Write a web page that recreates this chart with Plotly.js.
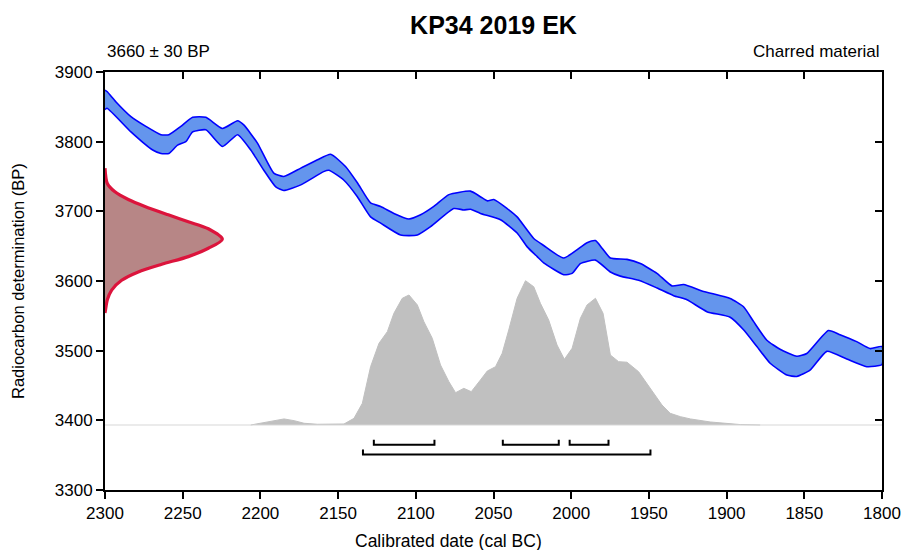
<!DOCTYPE html>
<html>
<head>
<meta charset="utf-8">
<script src="https://cdn.plot.ly/plotly-3.0.1.min.js"></script>
<style>html,body{margin:0;padding:0;background:#fff;}#chart{width:901px;height:550px;}</style>
</head>
<body>
<div id="chart"></div>
<script>
// ---- Data ----
// Calibration curve band (upper and lower edges), cal BC vs BP
var calUpperYear = [2300, 2298.7, 2292.9, 2283.3, 2273.7, 2264, 2258.9, 2251.2, 2243.6, 2235.1, 2224.4, 2214.7, 2210.7, 2201.9, 2191.4, 2185, 2174, 2163.3, 2154.8, 2145.1, 2137.6, 2129.1, 2122.6, 2114.1, 2104.4, 2096.9, 2088.4, 2078.7, 2064.8, 2058.4, 2054, 2049.8, 2041.2, 2034.8, 2024.1, 2017.7, 2004.8, 1989.8, 1984.4, 1980.1, 1974.8, 1964.1, 1955.5, 1944.8, 1935.2, 1927.7, 1914.8, 1897.7, 1889.1, 1882.7, 1874.1, 1865.6, 1854.8, 1848.4, 1834.5, 1827, 1816.3, 1807.7, 1800];
var calUpperBP   = [3874, 3872, 3857, 3836, 3822, 3810, 3810, 3822, 3835, 3835, 3819, 3830, 3824, 3798, 3755, 3750, 3762, 3774, 3782, 3764, 3741, 3712, 3707, 3697, 3689, 3695, 3707, 3724, 3729, 3721, 3715, 3717, 3704, 3692, 3661, 3651, 3633, 3655, 3658, 3647, 3633, 3631, 3625, 3611, 3593, 3595, 3585, 3575, 3563, 3542, 3515, 3502, 3492, 3496, 3529, 3523, 3513, 3503, 3506];
var calLowerYear = [2300, 2298.7, 2283.3, 2269.3, 2264, 2258.9, 2253.3, 2248, 2243.6, 2235.1, 2224.4, 2214.7, 2206.2, 2197.8, 2190.1, 2185, 2174, 2159.3, 2156, 2146.4, 2137.6, 2129.1, 2122.6, 2109.8, 2099, 2090.5, 2075.5, 2069.1, 2064.8, 2058.4, 2045.5, 2034.8, 2028.3, 2021.9, 2017.7, 2004.8, 1999.4, 1994.1, 1984.4, 1974.8, 1968.4, 1956.6, 1944.8, 1934.1, 1925.5, 1912.7, 1897.7, 1889.1, 1880.5, 1872, 1861.2, 1854.8, 1846.3, 1835.5, 1822.7, 1809.8, 1800];
var calLowerBP   = [3846, 3848, 3814, 3788, 3783, 3783, 3795, 3800, 3814, 3817, 3793, 3810, 3788, 3759, 3735, 3730, 3738, 3757, 3759, 3745, 3721, 3692, 3683, 3666, 3666, 3678, 3704, 3702, 3703, 3697, 3688, 3669, 3649, 3635, 3626, 3609, 3611, 3625, 3630, 3613, 3607, 3601, 3590, 3579, 3573, 3556, 3548, 3530, 3506, 3482, 3465, 3463, 3472, 3499, 3488, 3477, 3480];

// Radiocarbon measurement distribution (3660 ± 30 BP), width in years from axis
var rcBP      = [3554, 3558, 3573, 3587, 3601, 3613, 3624, 3635, 3647, 3660, 3675, 3685, 3695, 3707, 3717, 3728, 3740, 3762];
var rcDensity = [0, 0.3, 1.5, 4.3, 10.7, 21.4, 36.5, 53.6, 66.5, 75.5, 66.5, 53.6, 40.7, 25.7, 15, 6.4, 1.5, 0];

// Calibrated probability distribution (relative)
var calDateYear = [2206.2, 2193.3, 2184.8, 2178.3, 2171.9, 2163.3, 2146.2, 2139.8, 2134.4, 2129.1, 2123.7, 2118.3, 2114.1, 2108.7, 2104.4, 2099, 2094.8, 2089.4, 2084.1, 2078.7, 2074.4, 2069.1, 2064.3, 2058.4, 2054, 2048.7, 2044.4, 2040.2, 2034.8, 2029.4, 2024.1, 2019.8, 2014.5, 2009.1, 2004.4, 1999.4, 1994.1, 1989.8, 1984.4, 1979.5, 1974.8, 1969.5, 1964.1, 1956.6, 1949.1, 1941.6, 1936.3, 1929.8, 1923.3, 1910.5, 1891.2, 1878.4];
var calDateProb = [0, 0.023, 0.042, 0.030, 0.012, 0.005, 0.007, 0.046, 0.150, 0.404, 0.566, 0.647, 0.774, 0.878, 0.901, 0.832, 0.716, 0.601, 0.416, 0.300, 0.224, 0.254, 0.231, 0.312, 0.374, 0.404, 0.497, 0.658, 0.878, 1.000, 0.958, 0.843, 0.728, 0.554, 0.455, 0.532, 0.739, 0.832, 0.878, 0.774, 0.485, 0.439, 0.435, 0.369, 0.254, 0.139, 0.081, 0.058, 0.042, 0.021, 0.003, 0];

// Highest probability ranges
var range68Start = [2127, 2044, 2001];
var range68End   = [2088, 2008, 1976];
var range95Start = [2134];
var range95End   = [1949];

var xTicks = [2300, 2250, 2200, 2150, 2100, 2050, 2000, 1950, 1900, 1850, 1800];
var yTicks = [3300, 3400, 3500, 3600, 3700, 3800, 3900];

// ---- Traces ----
var FONT = 'Liberation Sans, Arial, sans-serif';
var traces = [];

// calibrated date probability (grey)
traces.push({
  x: calDateYear, y: calDateProb, xaxis: 'x', yaxis: 'y3',
  type: 'scatter', mode: 'lines', fill: 'tozeroy',
  fillcolor: 'rgb(192,192,192)', line: {color: 'rgb(192,192,192)', width: 1},
  hoverinfo: 'skip', showlegend: false
});
traces.push({
  x: [2300, 1800], y: [0, 0], xaxis: 'x', yaxis: 'y3',
  type: 'scatter', mode: 'lines', line: {color: 'rgb(215,215,215)', width: 1},
  hoverinfo: 'skip', showlegend: false
});

// calibration curve band
var bandX = calUpperYear.concat(calLowerYear.slice().reverse());
var bandY = calUpperBP.concat(calLowerBP.slice().reverse());
traces.push({
  x: bandX, y: bandY, type: 'scatter', mode: 'lines', fill: 'toself',
  fillcolor: '#6495ED', line: {color: '#0000FF', width: 1.6, shape: 'spline', smoothing: 0.5},
  hoverinfo: 'skip', showlegend: false
});

// radiocarbon measurement distribution
traces.push({
  x: rcDensity.map(function(d){ return 2300 - d; }), y: rcBP,
  type: 'scatter', mode: 'lines', fill: 'toself', line: {color: '#DC143C', width: 3.2, shape: 'spline', smoothing: 0.8},
  fillcolor: 'rgb(183,134,134)', hoverinfo: 'skip', showlegend: false
});

// ranges brackets
var lvl68 = 3365, lvl95 = 3351, tickH = 7;
function addBrackets(starts, ends, lvl) {
  for (var i = 0; i < starts.length; i++) {
    traces.push({
      x: [starts[i], starts[i], ends[i], ends[i]],
      y: [lvl + tickH, lvl, lvl, lvl + tickH],
      type: 'scatter', mode: 'lines', line: {color: '#000', width: 2},
      hoverinfo: 'skip', showlegend: false
    });
  }
}
addBrackets(range68Start, range68End, lvl68);
addBrackets(range95Start, range95End, lvl95);

// dummy trace for the mirrored (top/right) axes
traces.push({
  x: [2300], y: [3300], xaxis: 'x2', yaxis: 'y2', type: 'scatter', mode: 'markers',
  marker: {opacity: 0}, hoverinfo: 'skip', showlegend: false
});

var layout = {
  width: 901, height: 550,
  margin: {l: 105, r: 19, t: 72, b: 60},
  paper_bgcolor: '#fff', plot_bgcolor: '#fff',
  showlegend: false,
  font: {family: FONT, color: '#000', size: 17},
  title: {
    text: '<b>KP34 2019 EK</b>', font: {family: FONT, size: 25, color: '#000'},
    x: 0.5, xref: 'paper', xanchor: 'center', y: 1 - 25/550, yref: 'container', yanchor: 'middle'
  },
  xaxis: {
    range: [2300, 1800], tickvals: xTicks, ticktext: xTicks.map(String),
    ticks: 'outside', ticklen: 7, tickwidth: 2, tickcolor: '#000',
    showline: true, linecolor: '#000', linewidth: 2,
    showgrid: false, zeroline: false, tickfont: {size: 17, family: FONT, color: '#000'},
    fixedrange: true
  },
  xaxis2: {
    range: [2300, 1800], tickvals: xTicks, overlaying: 'x', side: 'top', anchor: 'y',
    ticks: 'inside', ticklen: 7, tickwidth: 2, tickcolor: '#000',
    showline: true, linecolor: '#000', linewidth: 2, showticklabels: false,
    showgrid: false, zeroline: false
  },
  yaxis: {
    range: [3300, 3900], tickvals: yTicks, ticktext: yTicks.map(String),
    ticks: 'outside', ticklen: 7, tickwidth: 2, tickcolor: '#000',
    showline: true, linecolor: '#000', linewidth: 2,
    showgrid: false, zeroline: false, tickfont: {size: 17, family: FONT, color: '#000'},
    fixedrange: true
  },
  yaxis2: {
    range: [3300, 3900], tickvals: yTicks, overlaying: 'y', side: 'right', anchor: 'x',
    ticks: 'inside', ticklen: 7, tickwidth: 2, tickcolor: '#000',
    showline: true, linecolor: '#000', linewidth: 2, showticklabels: false,
    showgrid: false, zeroline: false
  },
  yaxis3: {
    range: [-0.4505, 2.4465], overlaying: 'y', anchor: 'x', visible: false,
    showgrid: false, zeroline: false
  },
  annotations: [
    {text: '3660 ± 30 BP', xref: 'paper', yref: 'paper', x: 0, y: 1 + 20/418,
     xanchor: 'left', yanchor: 'middle', xshift: 0, showarrow: false, font: {size: 17, family: FONT, color: '#000'}},
    {text: 'Charred material', xref: 'paper', yref: 'paper', x: 1, y: 1 + 20/418,
     xanchor: 'right', yanchor: 'middle', showarrow: false, font: {size: 17, family: FONT, color: '#000'}},
    {text: 'Calibrated date (cal BC)', xref: 'paper', yref: 'paper', x: (448 - 105)/777, y: -(541 - 490)/418,
     xanchor: 'center', yanchor: 'middle', showarrow: false, font: {size: 17.5, family: FONT, color: '#000'}},
    {text: 'Radiocarbon determination (BP)', xref: 'paper', yref: 'paper', x: (18 - 105)/777, y: 0.5,
     xanchor: 'center', yanchor: 'middle', textangle: -90, showarrow: false, font: {size: 16.5, family: FONT, color: '#000'}}
  ]
};

Plotly.newPlot('chart', traces, layout, {staticPlot: true, displayModeBar: false});
</script>
</body>
</html>
